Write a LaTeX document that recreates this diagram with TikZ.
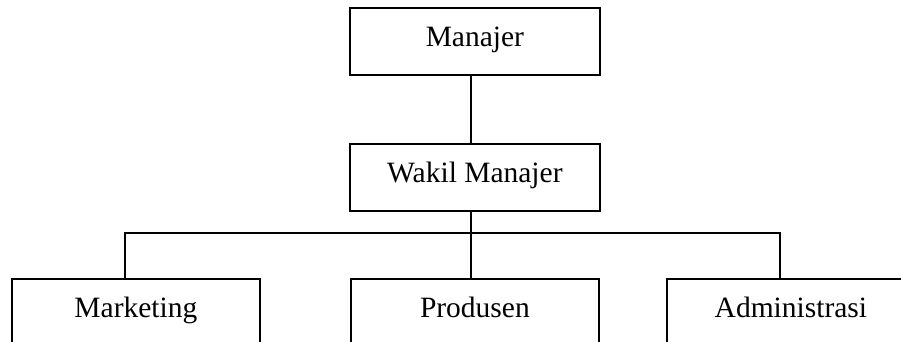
\documentclass[tikz,border=0pt]{standalone}
\usepackage{fontspec}
\setmainfont{Liberation Serif}
\begin{document}
\begin{tikzpicture}[x=1pt,y=-1pt,
  box/.style={draw, line width=1.8pt, minimum width=250pt, minimum height=67pt,
    inner sep=0pt, anchor=north west, text height=17pt, text depth=6pt,
    font=\fontsize{29.5}{32}\selectfont},
  conn/.style={line width=1.8pt}]
\useasboundingbox (0,0) rectangle (901,342);
\clip (0,0) rectangle (901,342);
\fill[white] (0,0) rectangle (901,342);
\node[box] (m) at (349,7) {Manajer};
\node[box] (w) at (349,143) {Wakil Manajer};
\node[box, minimum width=248pt] (mk) at (11,278) {Marketing};
\node[box, minimum width=248pt] (pr) at (350,278) {Produsen};
\node[box, minimum width=248pt] (ad) at (666,278) {Administrasi};
\coordinate (bus) at (0,233);
\draw[conn] ([xshift=-4pt]m.south) -- ([xshift=-4pt]w.north);
\draw[conn] ([xshift=-4pt]w.south) -- ([xshift=-4pt]pr.north);
\draw[conn] ([xshift=-11pt]mk.north) -- ([xshift=-11pt]mk.north |- bus)
  -- ([xshift=-11pt]ad.north |- bus) -- ([xshift=-11pt]ad.north);
\end{tikzpicture}
\end{document}
